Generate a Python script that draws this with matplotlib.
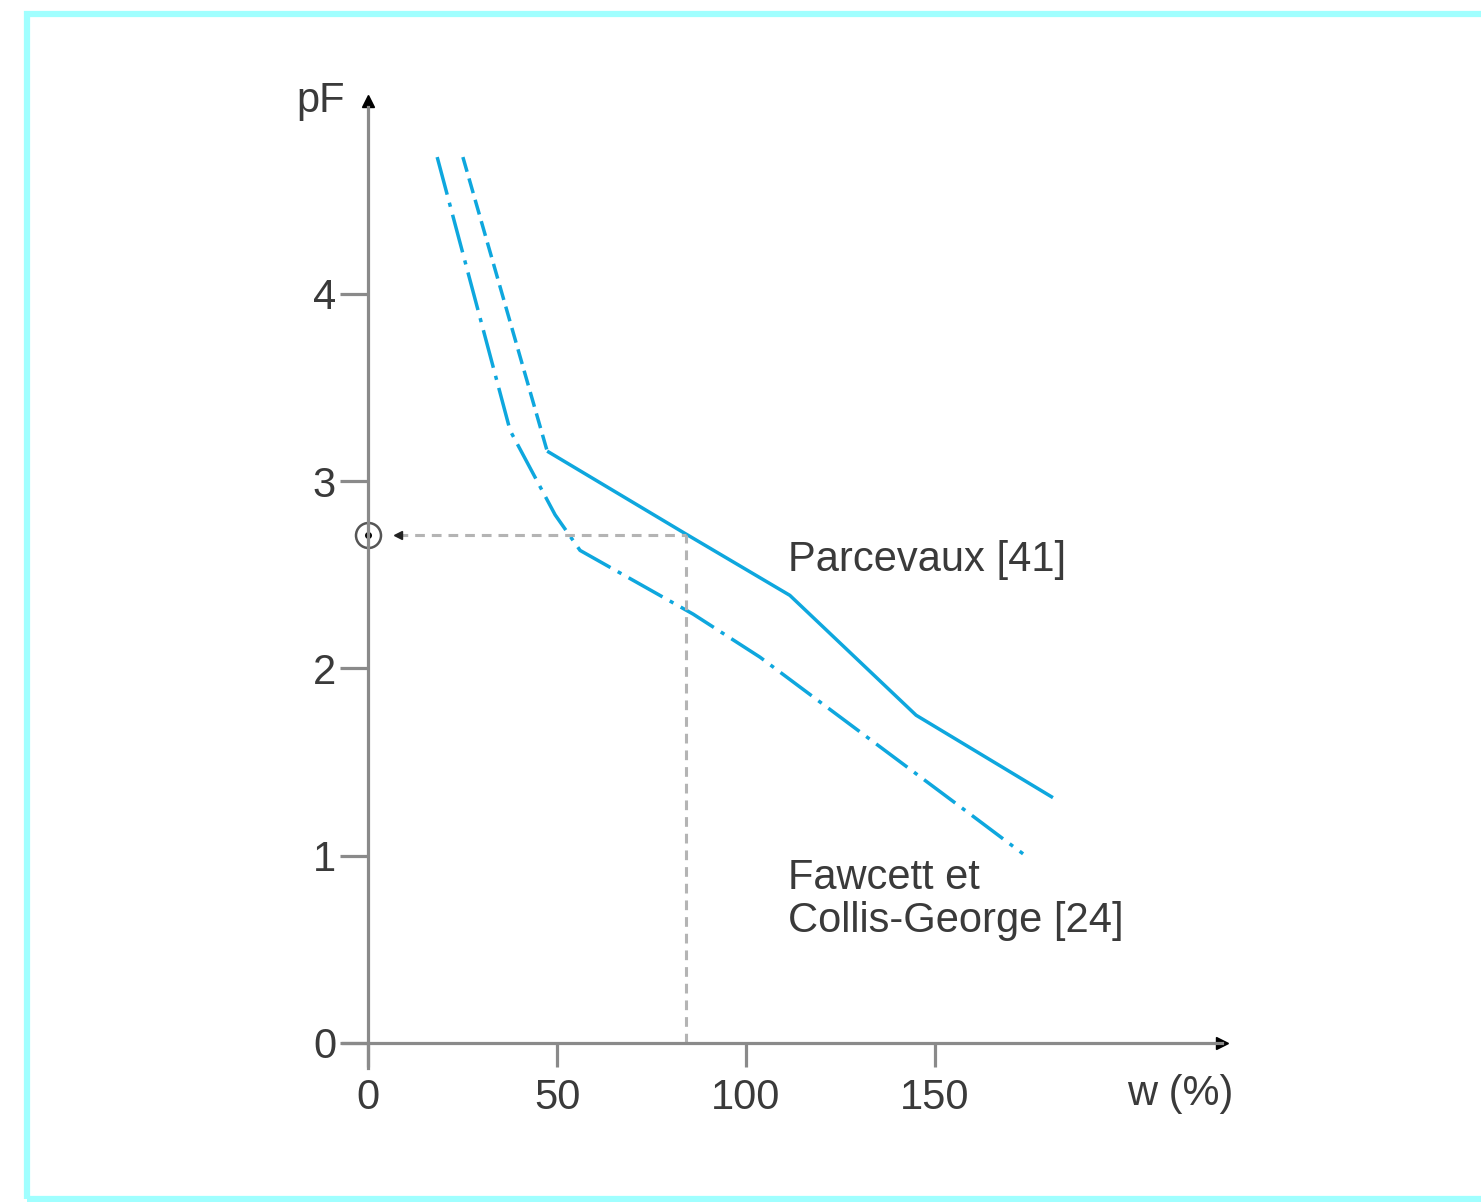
import numpy as np
import matplotlib
matplotlib.use("Agg")
import matplotlib.pyplot as plt
from matplotlib.patches import Rectangle

plt.rcParams['font.family'] = ['Liberation Sans', 'DejaVu Sans']
plt.rcParams['lines.scale_dashes'] = False

# data
fawcett_w = [18.3, 37.6, 49.5, 56.1, 86.0, 103.7, 160.1, 173.3]
fawcett_pf = [4.73, 3.27, 2.82, 2.63, 2.29, 2.06, 1.21, 1.01]
parc_dash_w = [25.1, 47.4]
parc_dash_pf = [4.73, 3.16]
parc_w = [47.4, 83.9, 111.6, 145.0, 181.2]
parc_pf = [3.16, 2.72, 2.39, 1.75, 1.31]
ref_w = 84.0
ref_pf = 2.71
x_ticks = [0, 50, 100, 150]
y_ticks = [0, 1, 2, 3, 4]

W, H, dpi = 1481, 1202, 100
px_per_w = 3.78
px_per_pf = 187.3
x0_px, y0_px = 368, 1043
fs = 30

blue = '#0ea7de'
axis_grey = '#8a8a8a'
text_c = '#3a3a3a'
ref_grey = '#b4b4b4'

fig = plt.figure(figsize=(W / dpi, H / dpi), dpi=dpi)
ax = fig.add_axes([0, 0, 1, 1])
ax.set_xlim(-x0_px / px_per_w, (W - x0_px) / px_per_w)
ax.set_ylim(-(H - y0_px) / px_per_pf, y0_px / px_per_pf)
ax.patch.set_alpha(0)

# frame around the figure
fig.patches.append(Rectangle((27 / W, 1 - 1199 / H), 1.1, (1199 - 14) / H,
                             transform=fig.transFigure, fill=False,
                             edgecolor='#a0ffff', linewidth=4.5))

# axes as spines through the origin
for s in ['top', 'right']:
    ax.spines[s].set_visible(False)
ax.spines['left'].set_position(('data', 0))
ax.spines['bottom'].set_position(('data', 0))
ax.spines['left'].set_bounds(-25 / px_per_pf, 5.0)
ax.spines['bottom'].set_bounds(-25 / px_per_w, 226)
for s in ['left', 'bottom']:
    ax.spines[s].set_color(axis_grey)
    ax.spines[s].set_linewidth(2.3)

ax.set_xticks(x_ticks)
ax.set_yticks(y_ticks)
ax.tick_params(axis='y', direction='out', length=20, width=2.3, color=axis_grey,
               labelsize=fs, labelcolor=text_c, pad=3)
ax.tick_params(axis='x', direction='out', length=17, width=2.3, color=axis_grey,
               labelsize=fs, labelcolor=text_c, pad=8)

# arrow heads at axis ends
ax.plot([0], [5.03], marker='^', color='black', markersize=9, clip_on=False)
ax.plot([226], [0], marker='>', color='black', markersize=9, clip_on=False)

# curves
ax.plot(fawcett_w, fawcett_pf, color=blue, lw=2.5, dashes=(28, 6, 3, 6))
ax.plot(parc_dash_w, parc_dash_pf, color=blue, lw=2.5, dashes=(11, 5))
ax.plot(parc_w, parc_pf, color=blue, lw=2.5, solid_capstyle='butt')

# reading lines
ax.plot([8, ref_w], [ref_pf, ref_pf], color=ref_grey, lw=2.2, dashes=(7, 5))
ax.plot([ref_w, ref_w], [0, ref_pf], color=ref_grey, lw=2.2, dashes=(7, 5))
ax.plot([0], [ref_pf], marker='o', markersize=18, markerfacecolor='white',
        markeredgecolor='#555555', markeredgewidth=1.8, clip_on=False)
ax.plot([0], [ref_pf], marker='o', markersize=4, color='black', clip_on=False)
ax.plot([8], [ref_pf], marker='<', markersize=6, color='#222222', clip_on=False)

# texts
ax.text(-12.5, 5.03, 'pF', fontsize=fs, color=text_c, ha='center', va='center')
ax.text(215, -0.27, 'w (%)', fontsize=fs, color=text_c, ha='center', va='center')
ax.text(111.1, 2.58, 'Parcevaux [41]', fontsize=fs, color=text_c, ha='left', va='center')
ax.text(111.1, 0.88, 'Fawcett et', fontsize=fs, color=text_c, ha='left', va='center')
ax.text(111.1, 0.65, 'Collis-George [24]', fontsize=fs, color=text_c, ha='left', va='center')

fig.savefig('out.png', dpi=dpi)
